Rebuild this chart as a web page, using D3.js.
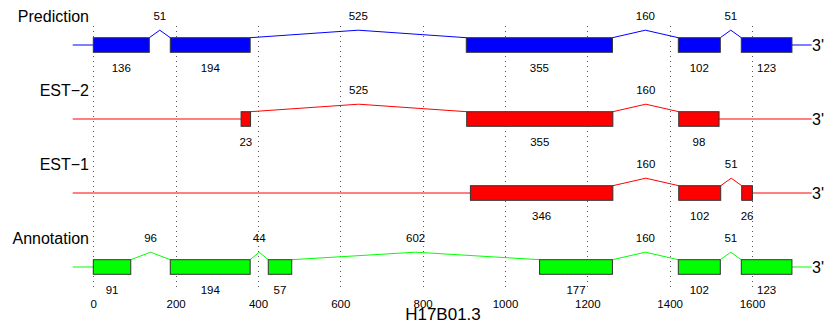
<!DOCTYPE html>
<html>
<head>
<meta charset="utf-8">
<script src="https://cdn.jsdelivr.net/npm/d3@7"></script>
<style>
  html, body { margin: 0; padding: 0; background: #fff; }
  svg { display: block; font-family: "Liberation Sans", Arial, Helvetica, sans-serif; }
</style>
</head>
<body>
<svg id="chart" width="825" height="328"></svg>
<script>
// Gene models: each track starts at a position and alternates exon / intron lengths
const trackNames = ["Prediction", "EST-2", "EST-1", "Annotation"];
const trackColors = ["#0000ff", "#ff0000", "#ff0000", "#00ff00"];
const trackStarts = [0, 359, 916, 0];
const predictionExons = [136, 194, 355, 102, 123];
const predictionIntrons = [51, 525, 160, 51];
const est2Exons = [23, 355, 98];
const est2Introns = [525, 160];
const est1Exons = [346, 102, 26];
const est1Introns = [160, 51];
const annotationExons = [91, 194, 57, 177, 102, 123];
const annotationIntrons = [96, 44, 602, 160, 51];
const tickValues = [0, 200, 400, 600, 800, 1000, 1200, 1400, 1600];
const lineExtent = [-50, 1745];
const title = "H17B01.3";

const exonLists = [predictionExons, est2Exons, est1Exons, annotationExons];
const intronLists = [predictionIntrons, est2Introns, est1Introns, annotationIntrons];

const svg = d3.select("#chart");
const x = d3.scaleLinear().domain([0, 1600]).range([93.3, 752]);
const y = d3.scalePoint().domain(trackNames).range([45, 267]);

const boxHalf = 7.3;
const peak = 7.5;

// dotted vertical guides at each tick
svg.append("g")
  .selectAll("line")
  .data(tickValues)
  .join("line")
  .attr("x1", d => Math.round(x(d)) + 0.5)
  .attr("x2", d => Math.round(x(d)) + 0.5)
  .attr("y1", 26)
  .attr("y2", 291)
  .attr("stroke", "#555")
  .attr("stroke-width", 1)
  .attr("stroke-dasharray", "1,4");

// axis tick labels
const axis = d3.axisBottom(x)
  .tickValues(tickValues)
  .tickFormat(d3.format("d"))
  .tickSize(0)
  .tickPadding(0);
const axisG = svg.append("g")
  .attr("transform", "translate(0,300)")
  .attr("font-size", 11.5)
  .attr("font-family", "Liberation Sans, Arial, sans-serif")
  .call(axis);
axisG.select(".domain").remove();
axisG.selectAll("text")
  .attr("font-size", 11.5)
  .attr("fill", "#000");

svg.append("text")
  .attr("x", 443)
  .attr("y", 320)
  .attr("text-anchor", "middle")
  .attr("font-size", 17)
  .text(title);

trackNames.forEach((name, i) => {
  const cy = y(name);
  const color = trackColors[i];
  const g = svg.append("g");

  // build exon / intron segments from cumulative lengths
  const exons = [];
  const introns = [];
  let pos = trackStarts[i];
  exonLists[i].forEach((len, k) => {
    exons.push({ start: pos, end: pos + len, len });
    pos += len;
    if (k < intronLists[i].length) {
      const il = intronLists[i][k];
      introns.push({ start: pos, end: pos + il, len: il });
      pos += il;
    }
  });

  // flanking backbone line
  g.append("line")
    .attr("x1", x(lineExtent[0])).attr("x2", x(exons[0].start))
    .attr("y1", cy).attr("y2", cy)
    .attr("stroke", color).attr("stroke-width", 1);
  g.append("line")
    .attr("x1", x(exons[exons.length - 1].end)).attr("x2", x(lineExtent[1]))
    .attr("y1", cy).attr("y2", cy)
    .attr("stroke", color).attr("stroke-width", 1);

  // introns as chevrons
  g.selectAll("path.intron")
    .data(introns)
    .join("path")
    .attr("class", "intron")
    .attr("d", d => d3.line()([
      [x(d.start), cy - boxHalf],
      [x((d.start + d.end) / 2), cy - boxHalf - peak],
      [x(d.end), cy - boxHalf]
    ]))
    .attr("fill", "none")
    .attr("stroke", color)
    .attr("stroke-width", 1);

  g.selectAll("text.intronLabel")
    .data(introns)
    .join("text")
    .attr("class", "intronLabel")
    .attr("x", d => x((d.start + d.end) / 2))
    .attr("y", cy - 25)
    .attr("text-anchor", "middle")
    .attr("font-size", 11.5)
    .text(d => d.len);

  // exons as boxes
  g.selectAll("rect")
    .data(exons)
    .join("rect")
    .attr("x", d => x(d.start))
    .attr("width", d => x(d.end) - x(d.start))
    .attr("y", cy - boxHalf)
    .attr("height", boxHalf * 2)
    .attr("fill", color)
    .attr("stroke", "#333")
    .attr("stroke-width", 1);

  g.selectAll("text.exonLabel")
    .data(exons)
    .join("text")
    .attr("class", "exonLabel")
    .attr("x", d => x((d.start + d.end) / 2))
    .attr("y", cy + 27)
    .attr("text-anchor", "middle")
    .attr("font-size", 11.5)
    .text(d => d.len);

  // track name and 3' end marker
  g.append("text")
    .attr("x", 89)
    .attr("y", cy - 23)
    .attr("text-anchor", "end")
    .attr("font-size", 16)
    .text(name.replace("-", "\u2212"));
  g.append("text")
    .attr("x", 812)
    .attr("y", cy + 6)
    .attr("font-size", 16)
    .text("3'");
});
</script>
</body>
</html>
